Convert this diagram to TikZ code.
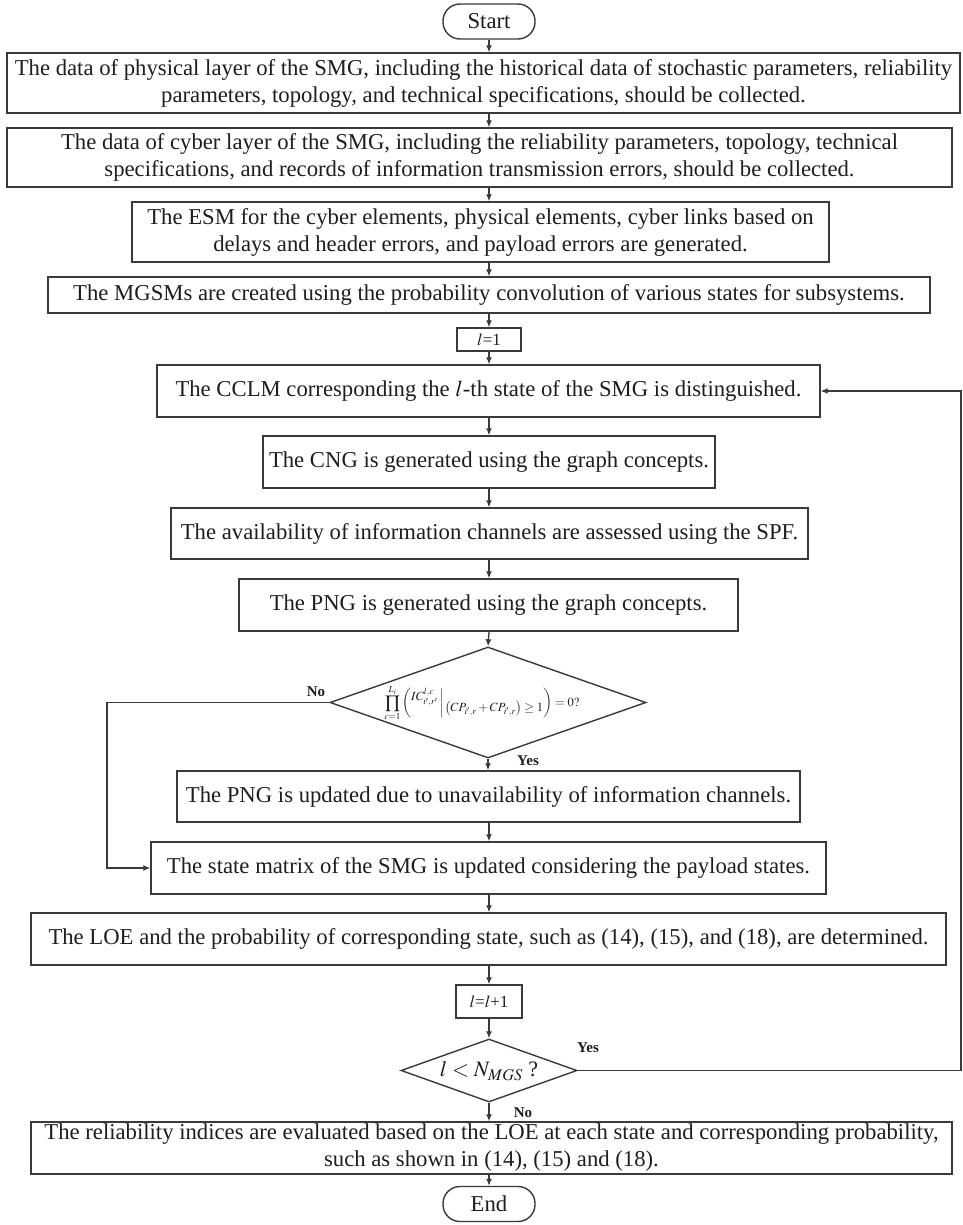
\documentclass[tikz,border=0pt]{standalone}
\usepackage{mathptmx}
\usepackage{fontspec}
\setmainfont{Liberation Serif}
\usetikzlibrary{shapes.geometric,arrows.meta,calc}
\definecolor{linec}{HTML}{3A3A3A}
\definecolor{txtc}{HTML}{1E1E1E}
\begin{document}
\begin{tikzpicture}[x=1pt,y=-1pt,
  box/.style={draw=linec,line width=1.4pt,rectangle,inner sep=0pt,align=center,font=\fontsize{22.7}{27}\selectfont,text=txtc},
  term/.style={box,rounded corners=17pt},
  dec/.style={draw=linec,line width=1.4pt,diamond,inner sep=0pt},
  arr/.style={draw=linec,line width=1.3pt,-{Latex[length=7pt,width=6pt]}},
  lbl/.style={font=\fontsize{15}{17}\selectfont\bfseries,text=txtc,inner sep=0pt}
]
\useasboundingbox (0,0) rectangle (962,1225);

\node[term,minimum width=92pt,minimum height=35pt] (start) at (489,21.5) {Start};
\node[box,minimum width=953pt,minimum height=60pt] (b1) at (483.5,83) {The data of physical layer of the SMG, including the historical data of stochastic parameters, reliability\\parameters, topology, and technical specifications, should be collected.};
\node[box,minimum width=945pt,minimum height=59pt] (b2) at (479.5,157.5) {The data of cyber layer of the SMG, including the reliability parameters, topology, technical\\specifications, and records of information transmission errors, should be collected.};
\node[box,minimum width=697pt,minimum height=60pt] (b3) at (480.5,232) {The ESM for the cyber elements, physical elements, cyber links based on\\delays and header errors, and payload errors are generated.};
\node[box,minimum width=882pt,minimum height=36pt] (b4) at (489,295) {The MGSMs are created using the probability convolution of various states for subsystems.};
\node[box,minimum width=64pt,minimum height=23pt,font=\fontsize{17}{20}\selectfont] (l1) at (489,339.5) {$l$=1};
\node[box,minimum width=663pt,minimum height=52pt] (b5) at (488.5,391) {The CCLM corresponding the $l$-th state of the SMG is distinguished.};
\node[box,minimum width=452pt,minimum height=52pt] (b6) at (489,462) {The CNG is generated using the graph concepts.};
\node[box,minimum width=637pt,minimum height=51pt] (b7) at (489.5,533.5) {The availability of information channels are assessed using the SPF.};
\node[box,minimum width=499pt,minimum height=52pt] (b8) at (488.5,605) {The PNG is generated using the graph concepts.};
\node[dec,minimum width=316pt,minimum height=111pt] (d1) at (488,702.5) {};
\node[font=\fontsize{12.5}{14}\selectfont,text=txtc,inner sep=0pt] (f1) at (482,703) {$\displaystyle\prod_{c=1}^{L_i}\left(\raisebox{1.1ex}{$IC^{l,c}_{i',r'}$}\,\middle|\,\raisebox{-0.9ex}{$\left(CP_{i',r}+CP_{i',r}\right)\geq 1$}\right)=0?$};
\node[box,minimum width=623pt,minimum height=51pt] (b9) at (488.5,796.5) {The PNG is updated due to unavailability of information channels.};
\node[box,minimum width=675pt,minimum height=52pt] (b10) at (488.5,868) {The state matrix of the SMG is updated considering the payload states.};
\node[box,minimum width=915pt,minimum height=52pt] (b11) at (488.5,939) {The LOE and the probability of corresponding state, such as (14), (15), and (18), are determined.};
\node[box,minimum width=66pt,minimum height=33pt,font=\fontsize{17}{20}\selectfont] (l2) at (489,1001.5) {$l$=$l$+1};
\node[dec,minimum width=176pt,minimum height=63pt] (d2) at (489,1070.5) {};
\node[font=\fontsize{22}{26}\selectfont,text=txtc,inner sep=0pt] (f2) at (489,1071) {$l<N_{MGS}$ ?};
\node[box,minimum width=921pt,minimum height=52pt] (b12) at (491.5,1148) {The reliability indices are evaluated based on the LOE at each state and corresponding probability,\\such as shown in (14), (15) and (18).};
\node[term,minimum width=92pt,minimum height=35pt] (end) at (489,1204) {End};

\node[lbl] (no1) at (316,692) {No};
\node[lbl] (yes1) at (528,761) {Yes};
\node[lbl] (yes2) at (588,1048) {Yes};
\node[lbl] (no2) at (523,1113) {No};

\coordinate (noL) at (107,0);
\coordinate (loopR) at (961,0);

\draw[arr] (start.south) -- (start |- b1.north);
\draw[arr] (start |- b1.south) -- (start |- b2.north);
\draw[arr] (start |- b2.south) -- (start |- b3.north);
\draw[arr] (start |- b3.south) -- (start |- b4.north);
\draw[arr] (start |- b4.south) -- (l1.north);
\draw[arr] (l1.south) -- (start |- b5.north);
\draw[arr] (start |- b5.south) -- (b6.north);
\draw[arr] (b6.south) -- (start |- b7.north);
\draw[arr] (start |- b7.south) -- (start |- b8.north);
\draw[arr] (start |- b8.south) -- (d1.north);
\draw[arr] (d1.south) -- (d1.south |- b9.north);
\draw[arr] (start |- b9.south) -- (start |- b10.north);
\draw[arr] (start |- b10.south) -- (start |- b11.north);
\draw[arr] (start |- b11.south) -- (l2.north);
\draw[arr] (l2.south) -- (d2.north);
\draw[arr] (d2.south) -- (start |- b12.north);
\draw[arr] (start |- b12.south) -- (end.north);
\draw[arr] (d1.west) -- (d1.west -| noL) -- (b10.west -| noL) -- (b10.west);
\draw[arr] (d2.east) -- (d2.east -| loopR) -- (b5.east -| loopR) -- (b5.east);
\end{tikzpicture}
\end{document}
